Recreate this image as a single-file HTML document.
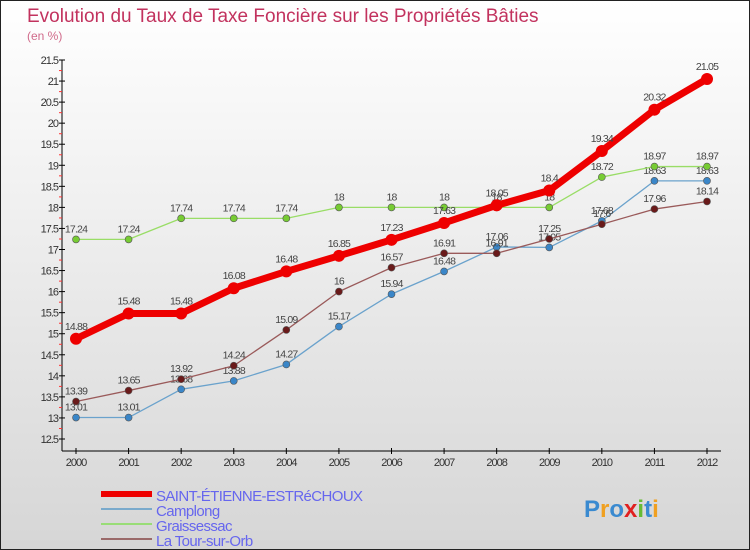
<!DOCTYPE html>
<html><head><meta charset="utf-8"><style>
body{margin:0}
#c{width:748px;height:548px;border:1px solid #222;background:linear-gradient(#fff,#d6d6d6);position:relative;font-family:"Liberation Sans",sans-serif;overflow:hidden}
</style></head><body>
<div id="c">
<svg id="s" width="748" height="548"></svg>
</div>
<script>
const years=[2000,2001,2002,2003,2004,2005,2006,2007,2008,2009,2010,2011,2012];
const stEtienne=[14.88,15.48,15.48,16.08,16.48,16.85,17.23,17.63,18.05,18.4,19.34,20.32,21.05];
const camplong=[13.01,13.01,13.68,13.88,14.27,15.17,15.94,16.48,17.06,17.05,17.68,18.63,18.63];
const graissessac=[17.24,17.24,17.74,17.74,17.74,18,18,18,18,18,18.72,18.97,18.97];
const laTour=[13.39,13.65,13.92,14.24,15.09,16,16.57,16.91,16.91,17.25,17.6,17.96,18.14];
const yTicks=[12.5,13,13.5,14,14.5,15,15.5,16,16.5,17,17.5,18,18.5,19,19.5,20,20.5,21,21.5];
const NS="http://www.w3.org/2000/svg",s=document.getElementById('s');
const X=i=>75+i*(631/12), Y=v=>59+(21.5-v)*(379/9);
function el(t,a,p){const e=document.createElementNS(NS,t);for(const k in a)e.setAttribute(k,a[k]);(p||s).appendChild(e);return e;}
function txt(x,y,str,a){const e=el('text',Object.assign({x:x,y:y},a));e.textContent=str;return e;}
let t=txt(26,21,"Evolution du Taux de Taxe Foncière sur les Propriétés Bâties",{fill:"#c2325e","font-size":19});

t=txt(26,39,"(en %)",{fill:"#d06a8a","font-size":12});

// axes
let a=el('line',{x1:61,y1:59,x2:61,y2:450,stroke:"#000"});

a=el('line',{x1:61,y1:450,x2:720,y2:450,stroke:"#000"});

yTicks.forEach(v=>{const y=Y(v);el('line',{x1:58,x2:64,y1:y,y2:y,stroke:"#000"});
 if(v<21.5)el('line',{x1:58,x2:61,y1:y-10.5,y2:y-10.5,stroke:"#f33"});
 const e=txt(57,y+4,String(v),{"text-anchor":"end","font-size":11,fill:"#333","letter-spacing":"-1"});
 });
years.forEach((yr,i)=>{const x=X(i);el('line',{x1:x,x2:x,y1:447,y2:453,stroke:"#000"});
 const e=txt(x,465,String(yr),{"text-anchor":"middle","font-size":11,fill:"#333","letter-spacing":"-1"});
 });
const series=[
 {d:camplong,c:"#6aa2cc",dot:"#3a86c8",w:1.3,r:3.5,n:"camplong"},
 {d:graissessac,c:"#99dd66",dot:"#77cc33",w:1.3,r:3.5,n:"graissessac"},
 {d:laTour,c:"#9a5a5a",dot:"#6a1a1a",w:1.3,r:3.5,n:"la-tour-sur-orb"},
 {d:stEtienne,c:"#ee0000",dot:"#ee0000",w:7,r:6,n:"saint-etienne-estrechoux"}];
series.forEach(S=>{const g=el('g',{});
 const p=el('polyline',{points:S.d.map((v,i)=>X(i)+","+Y(v)).join(" "),fill:"none",stroke:S.c,"stroke-width":S.w,"stroke-linejoin":"round"},g);
 
 S.d.forEach((v,i)=>{const c=el('circle',{cx:X(i),cy:Y(v),r:S.r,fill:S.dot,stroke:"#555","stroke-width":S.w>2?0:0.6},g);
  
  const l=txt(X(i),Y(v)-(S.w>2?9:7),String(v),{"text-anchor":"middle","font-size":10.5,fill:"#444","letter-spacing":"-0.8"},g);
  });});
// legend
const leg=[["SAINT-ÉTIENNE-ESTRéCHOUX","#ee0000",6],["Camplong","#7aaacc",2],["Graissessac","#99dd77",2],["La Tour-sur-Orb","#9a6a6a",2]];
leg.forEach((L,i)=>{const y=493+i*15;const g=el('g',{});
 el('line',{x1:100,x2:151,y1:y,y2:y,stroke:L[1],"stroke-width":L[2]},g);
 txt(155,y+7,L[0],{"font-size":15,fill:"#6666ee","letter-spacing":"-0.6"},g);});
const lg=txt(583,516,"",{"font-size":24,"font-weight":"bold"});

[["P","#3a8ad0"],["r","#f0a020"],["o","#3a8ad0"],["x","#e02020"],["i","#66bb33"],["t","#3a8ad0"],["i","#f0a020"]].forEach(q=>{const ts=el('tspan',{fill:q[1]},lg);ts.textContent=q[0];});
</script>
</body></html>
